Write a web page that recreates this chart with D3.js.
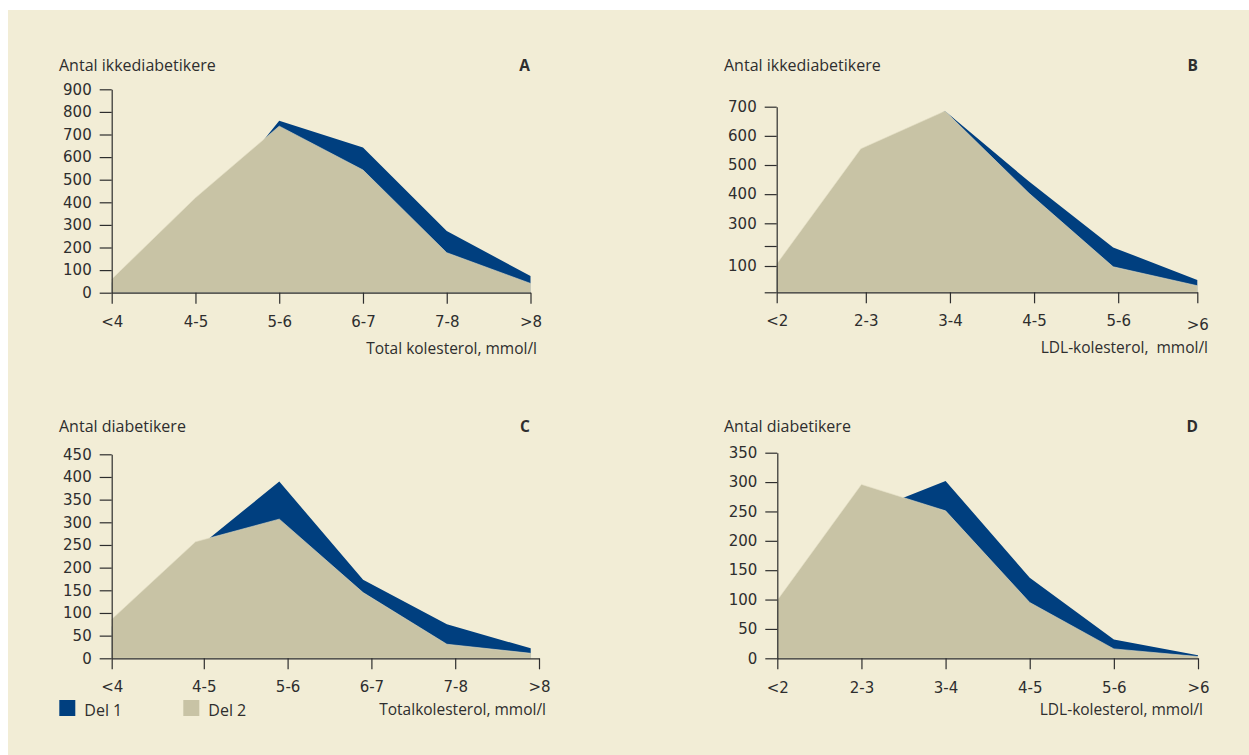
<!DOCTYPE html>
<html>
<head>
<meta charset="utf-8">
<script src="https://cdn.jsdelivr.net/npm/d3@7"></script>
<style>
  html, body { margin: 0; padding: 0; background: #ffffff; }
  svg { display: block; }
  text { font-family: "Open Sans", "DejaVu Sans", sans-serif; fill: #2e2e2e; }
</style>
</head>
<body>
<svg id="chart" width="1249" height="755"></svg>
<script>
// ---------- data ----------
const catTotal = ["<4", "4-5", "5-6", "6-7", "7-8", ">8"];
const catLdl = ["<2", "2-3", "3-4", "4-5", "5-6", ">6"];

const aDel1 = [45, 300, 761, 642, 273, 74];
const aDel2 = [60, 420, 737, 543, 177, 41];
const bDel1 = [90, 500, 685, 443, 193, 47];
const bDel2 = [110, 556, 685, 403, 97, 25];
const cDel1 = [70, 240, 390, 173, 75, 22];
const cDel2 = [86, 257, 307, 145, 31, 11];
const dDel1 = [80, 245, 302, 137, 32, 5];
const dDel2 = [99, 296, 251, 95, 16, 3];

const aTicks = [0, 100, 200, 300, 400, 500, 600, 700, 800, 900];
const bTicks = [0, 100, 200, 300, 400, 500, 600, 700];
const bTickLabels = ["", "100", "", "300", "400", "500", "600", "700"];
const cTicks = [0, 50, 100, 150, 200, 250, 300, 350, 400, 450];
const dTicks = [0, 50, 100, 150, 200, 250, 300, 350];

const yTitleNon = "Antal ikkediabetikere";
const yTitleDia = "Antal diabetikere";
const legendLabels = ["Del 1", "Del 2"];

// ---------- style ----------
const BLUE = "#003f7f";
const BEIGE = "#c8c3a5";
const BG = "#f2edd6";
const INK = "#2e2e2e";
const TICKFONT = "'DejaVu Sans', sans-serif";

const svg = d3.select("#chart");
svg.append("rect").attr("x", 8).attr("y", 10).attr("width", 1241).attr("height", 745).attr("fill", BG);

function panel(p) {
  const g = svg.append("g");
  const x = d3.scalePoint(p.cats, [p.x0, p.x1]);
  // tick positions (some panels in the original have ticks slightly offset from data vertices)
  const xt = d3.scaleOrdinal(p.cats, p.cats.map((c, i) => x(c) + (p.shift ? p.shift(i) : 0)));
  const y = p.y;
  const y0 = y(0);

  const area = d3.area()
    .x((d, i) => x(p.cats[i]))
    .y0(y0)
    .y1(d => y(d));

  g.append("path").datum(p.del1).attr("d", area).attr("fill", BLUE);
  g.append("path").datum(p.del2).attr("d", area).attr("fill", BEIGE)
    .attr("stroke", "#e4dfc6").attr("stroke-width", 0.6);

  // y axis
  const ya = g.append("g").attr("transform", `translate(${p.x0},0)`)
    .call(d3.axisLeft(y).tickValues(p.yTicks)
      .tickFormat((d, i) => p.yLabels ? p.yLabels[i] : d)
      .tickSize(12).tickSizeOuter(0).tickPadding(8));
  ya.selectAll("text").style("font-size", "15px").style("font-family", TICKFONT).attr("fill", INK);
  ya.selectAll("line, path").attr("stroke", INK).attr("stroke-width", 1.2);

  // x axis
  const xa = g.append("g").attr("transform", `translate(0,${y0})`)
    .call(d3.axisBottom(xt).tickSize(11).tickSizeOuter(0));
  xa.selectAll("line, path").attr("stroke", INK).attr("stroke-width", 1.2);
  xa.selectAll("text").style("font-size", "15px").style("font-family", TICKFONT).attr("fill", INK)
    .attr("dy", null)
    .attr("y", (d, i) => p.xLabelY + (p.lastLabelDrop && i === p.cats.length - 1 ? p.lastLabelDrop : 0));

  // titles
  g.append("text").attr("x", p.titleX).attr("y", p.titleY).style("font-size", "16px").text(p.title);
  g.append("text").attr("x", p.letterX).attr("y", p.titleY).attr("text-anchor", "end")
    .style("font-size", "15.5px").style("font-weight", "bold").text(p.letter);
  g.append("text").attr("x", p.axisTitleX).attr("y", p.axisTitleY).attr("text-anchor", "end")
    .style("font-size", "15.5px").style("white-space", "pre").attr("xml:space", "preserve").text(p.axisTitle);
  return g;
}

// A
panel({
  cats: catTotal, del1: aDel1, del2: aDel2,
  x0: 111.7, x1: 530.5,
  y: d3.scaleLinear([0, 900], [292.7, 89.3]),
  yTicks: aTicks,
  xLabelY: 34,
  title: yTitleNon, titleX: 59, titleY: 70.5, letter: "A", letterX: 530,
  axisTitle: "Total kolesterol, mmol/l", axisTitleX: 537, axisTitleY: 354
});

// B (lower part of the value axis is compressed in the original)
panel({
  cats: catLdl, del1: bDel1, del2: bDel2,
  x0: 776.7, x1: 1197.3,
  shift: i => (i === 0 || i === 5) ? 0 : 5,
  y: d3.scaleLinear([0, 100, 200, 300, 700], [292.3, 266, 246, 223.3, 106.7]),
  yTicks: bTicks, yLabels: bTickLabels,
  xLabelY: 33.5, lastLabelDrop: 4.5,
  title: yTitleNon, titleX: 724, titleY: 70.5, letter: "B", letterX: 1198,
  axisTitle: "LDL-kolesterol,  mmol/l", axisTitleX: 1208, axisTitleY: 353
});

// C
panel({
  cats: catTotal, del1: cDel1, del2: cDel2,
  x0: 111.7, x1: 530.7,
  shift: i => i === 0 ? 0 : 8.3,
  y: d3.scaleLinear([0, 450], [658.3, 454.3]),
  yTicks: cTicks,
  xLabelY: 33.5,
  title: yTitleDia, titleX: 59, titleY: 432, letter: "C", letterX: 530,
  axisTitle: "Totalkolesterol, mmol/l", axisTitleX: 546, axisTitleY: 715
});

// D
panel({
  cats: catLdl, del1: dDel1, del2: dDel2,
  x0: 777.3, x1: 1198,
  y: d3.scaleLinear([0, 350], [658.3, 452.7]),
  yTicks: dTicks,
  xLabelY: 34.5,
  title: yTitleDia, titleX: 724, titleY: 432, letter: "D", letterX: 1198,
  axisTitle: "LDL-kolesterol, mmol/l", axisTitleX: 1203, axisTitleY: 715
});

// legend
const legend = svg.append("g");
const legendColors = [BLUE, BEIGE];
const legendX = [59.3, 183.3];
legendLabels.forEach((lab, i) => {
  legend.append("rect").attr("x", legendX[i]).attr("y", 700).attr("width", 16).attr("height", 16)
    .attr("fill", legendColors[i]);
  legend.append("text").attr("x", legendX[i] + 25).attr("y", 715.5).style("font-size", "16px").text(lab);
});
</script>
</body>
</html>
